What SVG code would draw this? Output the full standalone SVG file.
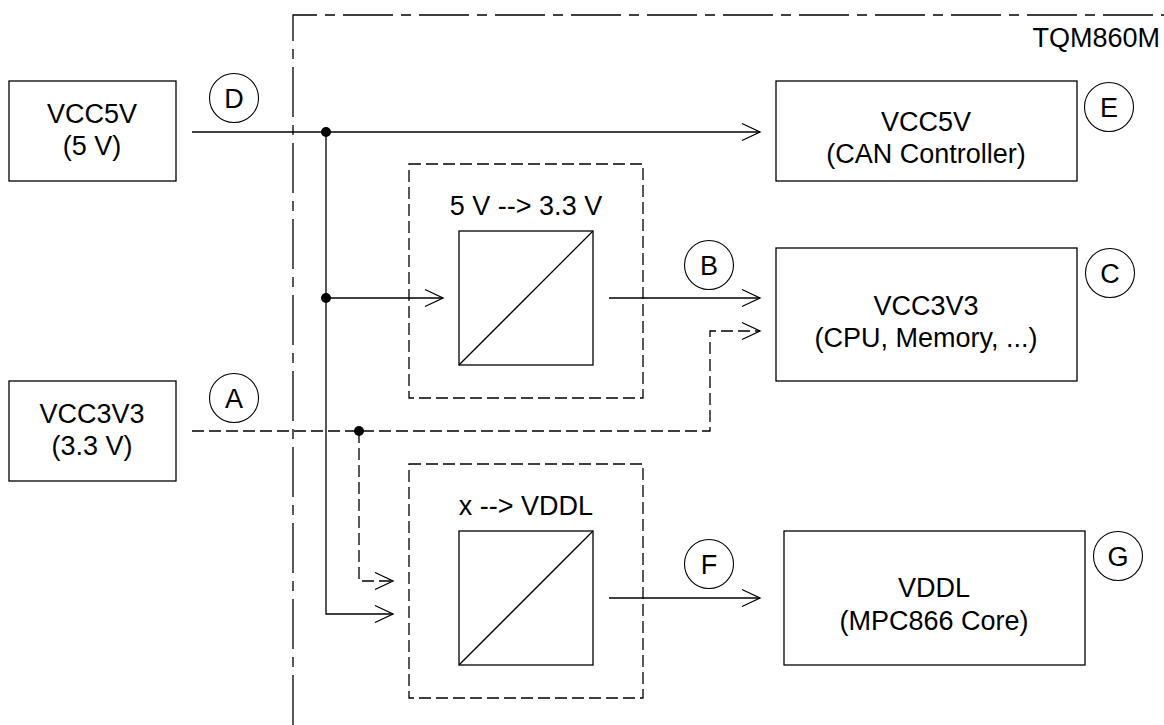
<svg xmlns="http://www.w3.org/2000/svg" width="1164" height="725" viewBox="0 0 1164 725">
<style>
text{font-family:"Liberation Sans",Arial,sans-serif;font-size:27px;fill:#000;text-anchor:middle}
.box{fill:#fff;stroke:#000;stroke-width:1.3}
.conv{fill:none;stroke:#000;stroke-width:1.3}
.dbox{fill:none;stroke:#000;stroke-width:1.3;stroke-dasharray:12,5}
.ln{fill:none;stroke:#000;stroke-width:1.3}
.dl{fill:none;stroke:#000;stroke-width:1.3;stroke-dasharray:12,5}
.bound{fill:none;stroke:#000;stroke-width:1.3;stroke-dasharray:50,8,10,8}
.lbl{fill:#fff;stroke:#000;stroke-width:1.1}
</style>
<defs>
<marker id="arr" markerUnits="userSpaceOnUse" markerWidth="20" markerHeight="20" refX="18" refY="9" orient="auto" overflow="visible">
<path d="M0,0.5 L18,9 L0,17.5" fill="none" stroke="#000" stroke-width="1.3"/>
</marker>
</defs>
<rect width="1164" height="725" fill="#fff"/>
<g id="boundary">
<path class="bound" d="M293,725 L293,15 L1164,15"/>
<text x="1160" y="47" style="text-anchor:end">TQM860M</text>
</g>
<g id="connectors">
<path class="ln" d="M192,132 L760,132" marker-end="url(#arr)"/>
<path class="ln" d="M326,132 L326,614 L393,614" marker-end="url(#arr)"/>
<path class="ln" d="M326,298 L443,298" marker-end="url(#arr)"/>
<path class="ln" d="M609,298 L760,298" marker-end="url(#arr)"/>
<path class="dl" d="M192,431 L710,431 L710,331 L760,331" marker-end="url(#arr)"/>
<path class="dl" d="M359,431 L359,581 L393,581" marker-end="url(#arr)"/>
<path class="ln" d="M609,598 L760,598" marker-end="url(#arr)"/>
<circle cx="326" cy="132" r="5"/>
<circle cx="326" cy="298" r="5"/>
<circle cx="359" cy="431" r="5"/>
</g>
<g id="vcc5v-in">
<rect class="box" x="9" y="81" width="167" height="100"/>
<text x="92" y="123">VCC5V</text>
<text x="92" y="155">(5 V)</text>
</g>
<g id="vcc3v3-in">
<rect class="box" x="9" y="381" width="167" height="100"/>
<text x="92" y="423">VCC3V3</text>
<text x="92" y="455">(3.3 V)</text>
</g>
<g id="conv-33">
<rect class="dbox" x="409" y="164" width="234" height="234"/>
<text x="526" y="215">5 V --&gt; 3.3 V</text>
<rect class="conv" x="459" y="231" width="134" height="134"/>
<path class="conv" d="M459,365 L593,231"/>
</g>
<g id="conv-vddl">
<rect class="dbox" x="409" y="464" width="234" height="234"/>
<text x="526" y="515">x --&gt; VDDL</text>
<rect class="conv" x="459" y="531" width="134" height="134"/>
<path class="conv" d="M459,665 L593,531"/>
</g>
<g id="can">
<rect class="box" x="776" y="81" width="301" height="100"/>
<text x="926" y="131">VCC5V</text>
<text x="926" y="163">(CAN Controller)</text>
</g>
<g id="cpu">
<rect class="box" x="776" y="248" width="301" height="133"/>
<text x="926" y="315">VCC3V3</text>
<text x="926" y="347">(CPU, Memory, ...)</text>
</g>
<g id="core">
<rect class="box" x="784" y="531" width="301" height="134"/>
<text x="934" y="597">VDDL</text>
<text x="934" y="630">(MPC866 Core)</text>
</g>
<g id="label-D"><circle class="lbl" cx="234" cy="98" r="24.5"/><text x="234" y="108">D</text></g>
<g id="label-A"><circle class="lbl" cx="234" cy="398" r="24.5"/><text x="234" y="408">A</text></g>
<g id="label-B"><circle class="lbl" cx="709" cy="265" r="24.5"/><text x="709" y="275">B</text></g>
<g id="label-F"><circle class="lbl" cx="709" cy="564" r="24.5"/><text x="709" y="574">F</text></g>
<g id="label-E"><circle class="lbl" cx="1109" cy="107" r="24.5"/><text x="1109" y="117">E</text></g>
<g id="label-C"><circle class="lbl" cx="1110" cy="273" r="24.5"/><text x="1110" y="283">C</text></g>
<g id="label-G"><circle class="lbl" cx="1118" cy="556" r="24.5"/><text x="1118" y="566">G</text></g>
</svg>
